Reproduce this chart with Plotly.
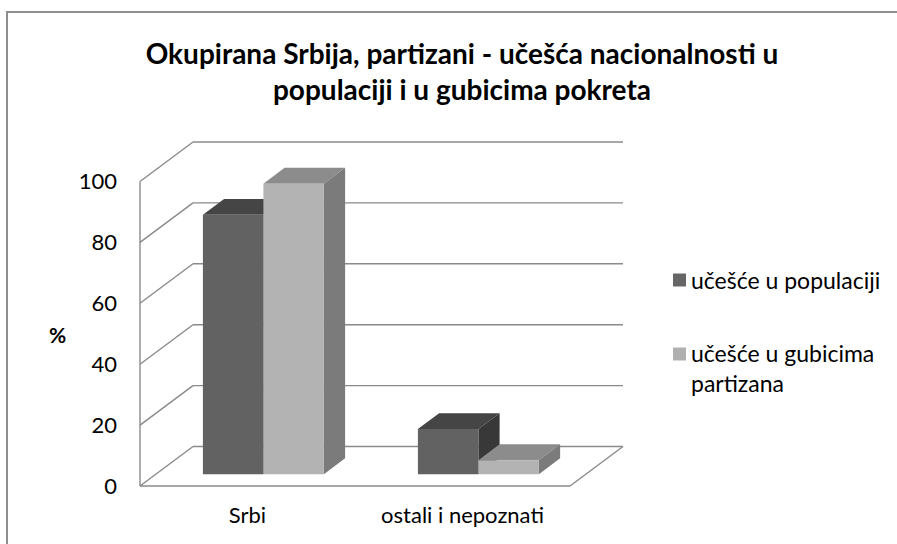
import plotly.graph_objects as go

# ---------------- data ----------------
categories = ["Srbi", "ostali i nepoznati"]
series_names = ["učešće u populaciji", "učešće u gubicima<br>partizana"]
udeo_populacija = [85.2, 14.8]
udeo_gubici = [95.4, 4.6]
y_ticks = [0, 20, 40, 60, 80, 100]
y_tick_labels = ["0", "20", "40", "60", "80", "100"]
title_text = "Okupirana Srbija, partizani - učešća nacionalnosti u<br>populaciji i u gubicima pokreta"
axis_label = "%"

# ---------------- geometry / style ----------------
W, H = 897, 544
PL, PR, PT, PB = 122, 660, 120, 500          # plot area in pixels
CAT_PX = 215.0                                # pixels per category (front plane)
PX_PER_V = 3.045                              # pixels per value unit
DEPTH_DX_PX, DEPTH_DY_PX = 53.0, 39.5         # full depth offset in pixels
BAR_D0, BAR_D1 = 0.3, 0.7                     # bar depth span (0 front, 1 back)
X0_FRONT_PX, Y0_FRONT_PX = 247.5, 486.0       # category 0 centre / value 0 at front plane
BAR_W = 121.0 / CAT_PX / 2                    # single bar width in category units

DX = DEPTH_DX_PX / CAT_PX
DY = DEPTH_DY_PX / PX_PER_V
X_ORIGIN_PX = X0_FRONT_PX + BAR_D0 * DEPTH_DX_PX
Y_ORIGIN_PX = Y0_FRONT_PX - BAR_D0 * DEPTH_DY_PX

x_range = [(PL - X_ORIGIN_PX) / CAT_PX, (PR - X_ORIGIN_PX) / CAT_PX]
y_range = [(Y_ORIGIN_PX - PB) / PX_PER_V, (Y_ORIGIN_PX - PT) / PX_PER_V]

FRONT = ["#626262", "#b3b3b3"]
TOP = ["#454545", "#8c8c8c"]
SIDE = ["#383838", "#7b7b7b"]
LEGEND_COL = ["#666666", "#b0b0b0"]
LINE_COL = "#8a8a8a"
FONT = "Lato"


def P(u, v, d):
    """front-plane category coord u, value v, depth d -> data coords"""
    return (u + (d - BAR_D0) * DX, v + (d - BAR_D0) * DY)


def px_to_paper(px, py):
    return ((px - PL) / (PR - PL), (PB - py) / (PB - PT))


def line_shape(a, b, color=LINE_COL, width=1.4):
    return dict(type="line", xref="x", yref="y", x0=a[0], y0=a[1], x1=b[0], y1=b[1],
                line=dict(color=color, width=width), layer="below")


def poly_shape(pts, color):
    path = "M " + " L ".join(f"{x},{y}" for x, y in pts) + " Z"
    return dict(type="path", xref="x", yref="y", path=path, fillcolor=color,
                line=dict(width=0), layer="below")


shapes = []
u_left, u_right = -0.5, len(categories) - 0.5
# back wall gridlines
for v in y_ticks:
    shapes.append(line_shape(P(u_left, v, 1), P(u_right, v, 1)))
# side wall diagonals
for v in y_ticks:
    shapes.append(line_shape(P(u_left, v, 0), P(u_left, v, 1)))
# front-left vertical edge
shapes.append(line_shape(P(u_left, y_ticks[0], 0), P(u_left, y_ticks[-1], 0)))
# floor front & right edges
shapes.append(line_shape(P(u_left, 0, 0), P(u_right, 0, 0)))
shapes.append(line_shape(P(u_right, 0, 0), P(u_right, 0, 1)))

series = [udeo_populacija, udeo_gubici]
offsets = [-BAR_W, 0.0]
depth = BAR_D1 - BAR_D0
for k, vals in enumerate(series):
    for i, v in enumerate(vals):
        xl = i + offsets[k]
        xr = xl + BAR_W
        # top face
        shapes.append(poly_shape([(xl, v), (xr, v), (xr + depth * DX, v + depth * DY),
                                  (xl + depth * DX, v + depth * DY)], TOP[k]))
        # right side face
        shapes.append(poly_shape([(xr, 0), (xr, v), (xr + depth * DX, v + depth * DY),
                                  (xr + depth * DX, depth * DY)], SIDE[k]))

# chart border
bx0, by0 = px_to_paper(7, 12)
bx1, by1 = px_to_paper(905, 560)
shapes.append(dict(type="rect", xref="paper", yref="paper", x0=bx0, y0=by1, x1=bx1, y1=by0,
                   line=dict(color="#8e8e8e", width=2), fillcolor="rgba(0,0,0,0)", layer="below"))

fig = go.Figure()
for k, vals in enumerate(series):
    fig.add_trace(go.Bar(x=list(range(len(categories))), y=vals, width=BAR_W, offset=offsets[k],
                         marker=dict(color=FRONT[k], line=dict(width=0)),
                         name=series_names[k], showlegend=False))

annotations = []
# legend
leg_y = [280, 354]
for k in range(2):
    mx, my = px_to_paper(673, leg_y[k] - 6.5)
    mx2, my2 = px_to_paper(686, leg_y[k] + 6.5)
    shapes.append(dict(type="rect", xref="paper", yref="paper", x0=mx, y0=my2, x1=mx2, y1=my,
                       fillcolor=LEGEND_COL[k], line=dict(width=0)))
    ax, ay = px_to_paper(689, leg_y[k])
    multi = "<br>" in series_names[k]
    annotations.append(dict(xref="paper", yref="paper", x=ax, y=ay, text=series_names[k],
                            showarrow=False, xanchor="left", yanchor="top" if multi else "middle",
                            yshift=17 if multi else 0,
                            align="left", font=dict(family=FONT, size=23, color="#000")))
# "%" label
px_, py_ = px_to_paper(57, 334)
annotations.append(dict(xref="paper", yref="paper", x=px_, y=py_, text="<b>" + axis_label + "</b>",
                        showarrow=False, xanchor="center", yanchor="middle",
                        font=dict(family=FONT, size=21, color="#000")))

fig.update_layout(
    width=W, height=H,
    margin=dict(l=PL, r=W - PR, t=PT, b=H - PB, pad=0),
    paper_bgcolor="white", plot_bgcolor="white",
    barmode="overlay",
    showlegend=False,
    title=dict(text="<b>" + title_text + "</b>", x=462 / W, xanchor="center",
               y=1 - 64 / H, yanchor="middle", yref="container", xref="container",
               font=dict(family=FONT, size=28, color="#000")),
    xaxis=dict(range=x_range, showgrid=False, zeroline=False, showline=False,
               tickmode="array", tickvals=[P(i, 0, 0)[0] for i in range(len(categories))],
               ticktext=categories, ticks="", tickfont=dict(family=FONT, size=22, color="#000")),
    yaxis=dict(range=y_range, showgrid=False, zeroline=False, showline=False,
               tickmode="array", tickvals=[P(u_left, v, 0)[1] for v in y_ticks],
               ticktext=y_tick_labels, ticks="", ticklabelstandoff=4,
               tickfont=dict(family=FONT, size=22, color="#000")),
    shapes=shapes,
    annotations=annotations,
)

fig.write_html("out.html", config={"displayModeBar": False, "staticPlot": True},
               post_script="document.body.style.margin='0';document.body.style.overflow='hidden';")
